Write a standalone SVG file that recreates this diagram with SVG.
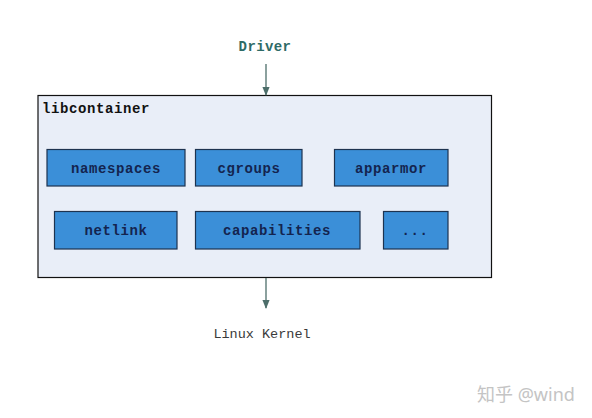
<svg xmlns="http://www.w3.org/2000/svg" width="592" height="418" viewBox="0 0 592 418">
<defs>
<style>
.bg{fill:#ffffff}
.outer{fill:#e9eef8;stroke:#111111;stroke-width:1.2}
.mod{fill:#3b8fd8;stroke:#1d3350;stroke-width:1.2}
.lbl{font-family:"Liberation Mono",monospace;font-weight:bold;font-size:14px;letter-spacing:0.6px;fill:#14244f;text-anchor:middle}
.title{font-family:"Liberation Mono",monospace;font-weight:bold;font-size:14px;letter-spacing:0.6px;fill:#111111}
.drv{font-family:"Liberation Mono",monospace;font-weight:bold;font-size:14px;letter-spacing:0.4px;fill:#2e6b66;text-anchor:middle}
.kern{font-family:"Liberation Mono",monospace;font-size:13.5px;fill:#3a3a3a;text-anchor:middle}
.wm{font-family:"Noto Sans","Noto Sans CJK SC",sans-serif;font-size:18px;fill:#c4c4c4}
.conn{stroke:#4d6e6a;stroke-width:1.3;fill:none}
</style>
<marker id="arr" viewBox="0 0 10 10" refX="9" refY="5" markerWidth="7" markerHeight="7" orient="auto">
<path d="M0,1 L10,5 L0,9 z" fill="#4d6e6a"/>
</marker>
</defs>
<rect class="bg" x="0" y="0" width="592" height="418"/>
<g id="libcontainer">
<rect class="outer" x="38" y="95.5" width="453.5" height="182"/>
<text class="title" x="42" y="113">libcontainer</text>
</g>
<g id="namespaces">
<rect class="mod" x="47" y="149.5" width="138" height="36.5"/>
<text class="lbl" x="116" y="172.5">namespaces</text>
</g>
<g id="cgroups">
<rect class="mod" x="195.5" y="149.5" width="106.5" height="36.5"/>
<text class="lbl" x="249" y="172.5">cgroups</text>
</g>
<g id="apparmor">
<rect class="mod" x="334.5" y="149.5" width="113.5" height="36.5"/>
<text class="lbl" x="391" y="172.5">apparmor</text>
</g>
<g id="netlink">
<rect class="mod" x="54.5" y="211.5" width="122.5" height="37.5"/>
<text class="lbl" x="116" y="235">netlink</text>
</g>
<g id="capabilities">
<rect class="mod" x="195.5" y="211.5" width="164.5" height="37.5"/>
<text class="lbl" x="277" y="235">capabilities</text>
</g>
<g id="more">
<rect class="mod" x="383.5" y="211.5" width="64.5" height="37.5"/>
<text class="lbl" x="415" y="235">...</text>
</g>
<g id="driver">
<text class="drv" x="265" y="51">Driver</text>
</g>
<g id="kernel">
<text class="kern" x="262" y="338">Linux Kernel</text>
</g>
<g id="connectors">
<line class="conn" x1="266" y1="64" x2="266" y2="95" marker-end="url(#arr)"/>
<line class="conn" x1="266" y1="278" x2="266" y2="308" marker-end="url(#arr)"/>
</g>
<text class="wm" x="477" y="401">知乎 @wind</text>
</svg>
